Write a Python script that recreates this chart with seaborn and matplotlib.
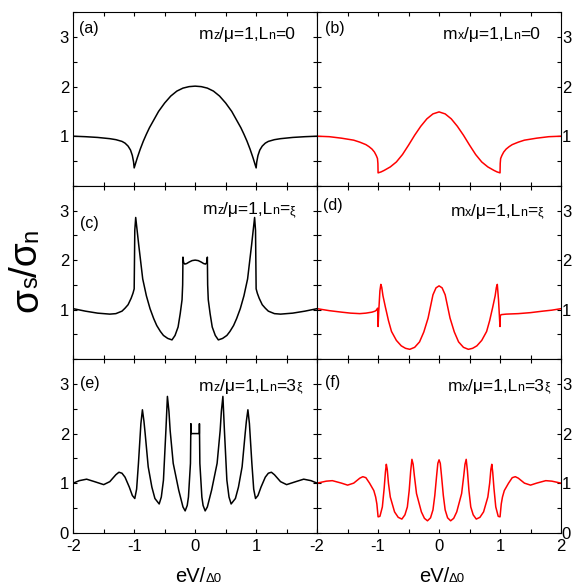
import matplotlib
matplotlib.use("Agg")
import matplotlib.pyplot as plt
from matplotlib.ticker import MultipleLocator, FixedLocator
import seaborn as sns

# ---- conductance spectra sigma_s/sigma_n vs eV/Delta0 ----
# (a) m_z/mu=1, L_n=0
x_a = [-2.0, -1.8, -1.6, -1.4, -1.3, -1.2, -1.15, -1.1, -1.06, -1.03, -1.01,
       -1.0, -0.97, -0.95, -0.9, -0.85, -0.8, -0.75, -0.7, -0.6, -0.5, -0.4,
       -0.3, -0.2, -0.1, 0.0, 0.1, 0.2, 0.3, 0.4, 0.5, 0.6, 0.7, 0.75, 0.8,
       0.85, 0.9, 0.95, 0.97, 1.0, 1.01, 1.03, 1.06, 1.1, 1.15, 1.2, 1.3, 1.4,
       1.6, 1.8, 2.0]
y_a = [1.0, 0.99, 0.975, 0.95, 0.93, 0.895, 0.86, 0.80, 0.72, 0.61, 0.48,
       0.36, 0.48, 0.56, 0.74, 0.90, 1.04, 1.17, 1.28, 1.50, 1.67, 1.81,
       1.91, 1.97, 2.0, 2.01, 2.0, 1.97, 1.91, 1.81, 1.67, 1.50, 1.28, 1.17,
       1.04, 0.90, 0.74, 0.56, 0.48, 0.36, 0.48, 0.61, 0.72, 0.80, 0.86,
       0.895, 0.93, 0.95, 0.975, 0.99, 1.0]

# (b) m_x/mu=1, L_n=0
x_b = [-2.0, -1.8, -1.6, -1.5, -1.4, -1.3, -1.2, -1.15, -1.1, -1.06, -1.03,
       -1.01, -1.003, -1.0, -0.95, -0.9, -0.8, -0.7, -0.6, -0.5, -0.4, -0.3,
       -0.2, -0.1, 0.0, 0.1, 0.2, 0.3, 0.4, 0.5, 0.6, 0.7, 0.8, 0.9, 0.95,
       1.0, 1.003, 1.01, 1.03, 1.06, 1.1, 1.15, 1.2, 1.3, 1.4, 1.5, 1.6, 1.8,
       2.0]
y_b = [1.0, 0.99, 0.96, 0.94, 0.92, 0.88, 0.83, 0.79, 0.74, 0.68, 0.61,
       0.55, 0.45, 0.26, 0.28, 0.31, 0.38, 0.48, 0.63, 0.82, 1.02, 1.20,
       1.35, 1.45, 1.49, 1.45, 1.35, 1.20, 1.02, 0.82, 0.63, 0.48, 0.38,
       0.31, 0.28, 0.26, 0.45, 0.55, 0.61, 0.68, 0.74, 0.79, 0.83, 0.88,
       0.92, 0.94, 0.96, 0.99, 1.0]

# (c) m_z/mu=1, L_n=xi
x_c = [-2.0, -1.8, -1.6, -1.4, -1.3, -1.2, -1.15, -1.1, -1.05, -1.02,
       -1.0, -0.99, -0.975, -0.95, -0.925, -0.9, -0.86, -0.8, -0.74, -0.68,
       -0.63, -0.57, -0.52, -0.45, -0.38, -0.33, -0.28, -0.245, -0.215, -0.205,
       -0.2, -0.19, -0.17, -0.14, -0.1, -0.05, 0.0,
       0.05, 0.1, 0.14, 0.17, 0.19, 0.2, 0.205, 0.215, 0.245, 0.28,
       0.33, 0.38, 0.45, 0.52, 0.57, 0.63, 0.68, 0.74, 0.8, 0.86,
       0.9, 0.925, 0.95, 0.975, 0.99, 1.0, 1.02, 1.05, 1.1, 1.15,
       1.2, 1.3, 1.4, 1.6, 1.8, 2.0]
y_c = [1.02, 0.97, 0.93, 0.91, 0.92, 0.97, 1.03, 1.10, 1.23, 1.33,
       1.42, 2.6, 2.86, 2.58, 2.3, 2.04, 1.62, 1.28, 1.02, 0.82,
       0.68, 0.56, 0.48, 0.42, 0.39, 0.48, 0.65, 0.92, 1.2, 1.5,
       2.06, 1.95, 1.92, 1.93, 1.96, 1.99, 2.0,
       1.99, 1.96, 1.93, 1.92, 1.95, 2.06, 1.5, 1.2, 0.92, 0.65,
       0.48, 0.39, 0.42, 0.48, 0.56, 0.68, 0.82, 1.02, 1.28, 1.62,
       2.04, 2.3, 2.58, 2.86, 2.6, 1.42, 1.33, 1.23, 1.10, 1.03,
       0.97, 0.92, 0.91, 0.93, 0.97, 1.02]

# (d) m_x/mu=1, L_n=xi
x_d = [-2.0, -1.8, -1.6, -1.45, -1.3, -1.2, -1.1, -1.05, -1.02, -1.008,
       -1.0, -0.99, -0.97, -0.955, -0.94, -0.92, -0.88, -0.865, -0.83, -0.78,
       -0.7, -0.62, -0.55, -0.48, -0.4, -0.32, -0.25, -0.18, -0.1, -0.05,
       0.0, 0.05, 0.1, 0.18, 0.25, 0.32, 0.4, 0.48, 0.55, 0.62, 0.7,
       0.78, 0.83, 0.865, 0.88, 0.92, 0.94, 0.955, 0.975, 0.995, 1.0,
       1.005, 1.02, 1.1, 1.3, 1.5, 1.7, 1.85, 2.0]
y_d = [1.02, 0.98, 0.95, 0.93, 0.92, 0.93, 0.95, 0.97, 1.0, 1.03,
       0.66, 0.95, 1.38, 1.51, 1.45, 1.28, 1.05, 0.97, 0.78, 0.56,
       0.38, 0.27, 0.22, 0.20, 0.24, 0.35, 0.55, 0.83, 1.3, 1.44,
       1.48, 1.44, 1.3, 0.83, 0.55, 0.35, 0.24, 0.20, 0.22, 0.27, 0.38,
       0.56, 0.78, 0.97, 1.05, 1.28, 1.45, 1.51, 1.2, 0.75, 0.66,
       0.88, 0.9, 0.91, 0.92, 0.94, 0.97, 0.99, 1.02]

# (e) m_z/mu=1, L_n=3xi
x_e = [-2.0, -1.9, -1.78, -1.65, -1.5, -1.4, -1.3, -1.25, -1.2, -1.15,
       -1.08, -1.03, -0.99, -0.96, -0.93, -0.89, -0.865, -0.84, -0.82, -0.77,
       -0.71, -0.66, -0.59, -0.555, -0.52, -0.48, -0.455, -0.43, -0.41, -0.36,
       -0.27, -0.2, -0.164, -0.13, -0.11, -0.077, -0.07, -0.068, 0.0,
       0.068, 0.07, 0.077, 0.11, 0.13, 0.164, 0.2, 0.27, 0.36, 0.41,
       0.43, 0.455, 0.48, 0.52, 0.555, 0.59, 0.66, 0.71, 0.77, 0.82,
       0.84, 0.865, 0.89, 0.93, 0.96, 0.99, 1.03, 1.08, 1.15, 1.2,
       1.25, 1.3, 1.4, 1.5, 1.65, 1.78, 1.9, 2.0]
y_e = [1.0, 1.05, 1.08, 1.03, 0.97, 1.03, 1.17, 1.22, 1.2, 1.12,
       0.92, 0.75, 0.69, 0.88, 1.4, 2.2, 2.48, 2.25, 2.0, 1.33,
       0.92, 0.69, 0.58, 0.72, 1.06, 2.06, 2.75, 2.45, 2.06, 1.4,
       0.86, 0.52, 0.44, 0.55, 0.72, 1.4, 2.2, 2.0, 2.0,
       2.0, 2.2, 1.4, 0.72, 0.55, 0.44, 0.52, 0.86, 1.4, 2.06,
       2.45, 2.75, 2.06, 1.06, 0.72, 0.58, 0.69, 0.92, 1.33, 2.0,
       2.25, 2.48, 2.2, 1.4, 0.88, 0.69, 0.75, 0.92, 1.12, 1.2,
       1.22, 1.17, 1.03, 0.97, 1.03, 1.08, 1.05, 1.0]

# (f) m_x/mu=1, L_n=3xi
x_f = [-2.0, -1.85, -1.75, -1.6, -1.5, -1.4, -1.3, -1.25, -1.2, -1.14,
       -1.07, -1.04, -1.02, -1.0, -0.97, -0.93, -0.9, -0.88, -0.865, -0.85,
       -0.83, -0.8, -0.73, -0.67, -0.61, -0.56, -0.52, -0.49, -0.465, -0.445,
       -0.425, -0.405, -0.37, -0.29, -0.24, -0.19, -0.14, -0.1, -0.07, -0.04,
       -0.02, 0.0, 0.02, 0.04, 0.07, 0.1, 0.14, 0.19, 0.24, 0.29, 0.37,
       0.405, 0.425, 0.445, 0.465, 0.49, 0.52, 0.56, 0.61, 0.67, 0.73,
       0.8, 0.83, 0.85, 0.865, 0.88, 0.9, 0.93, 0.97, 1.0, 1.02,
       1.04, 1.07, 1.14, 1.2, 1.25, 1.3, 1.4, 1.5, 1.6, 1.75, 1.85, 2.0]
y_f = [1.0, 1.04, 1.05, 1.0, 0.96, 1.0, 1.1, 1.13, 1.11, 1.0,
       0.85, 0.72, 0.58, 0.32, 0.33, 0.52, 0.9, 1.22, 1.38, 1.28,
       1.0, 0.72, 0.42, 0.31, 0.275, 0.36, 0.52, 0.85, 1.25, 1.48,
       1.38, 1.15, 0.79, 0.42, 0.29, 0.24, 0.3, 0.46, 0.75, 1.15,
       1.4, 1.47, 1.4, 1.15, 0.75, 0.46, 0.3, 0.24, 0.29, 0.42, 0.79,
       1.15, 1.38, 1.48, 1.25, 0.85, 0.52, 0.36, 0.275, 0.31, 0.42,
       0.72, 1.0, 1.28, 1.38, 1.22, 0.9, 0.52, 0.33, 0.32, 0.58,
       0.72, 0.85, 1.0, 1.11, 1.13, 1.1, 1.0, 0.96, 1.0, 1.05, 1.04, 1.0]

panel_tags = ["(a)", "(b)", "(c)", "(d)", "(e)", "(f)"]
x_tick_labels_left = ["-2", "-1", "0", "1", ""]
x_tick_labels_right = ["-2", "-1", "0", "1", "2"]

# ---- styling ----
sns.set_style("ticks")
plt.rcParams["font.family"] = ["Liberation Sans", "DejaVu Sans"]
plt.rcParams["axes.unicode_minus"] = False
plt.rcParams["axes.linewidth"] = 0.8

BLACK = "#000000"
RED = "#ff0000"
TICK_SIZE = 12

fig = plt.figure(figsize=(5.81, 5.85), dpi=100)
gs = fig.add_gridspec(3, 2, left=0.126, right=0.9656, top=0.979,
                      bottom=0.0894, hspace=0, wspace=0)

series = [(x_a, y_a, BLACK), (x_b, y_b, RED),
          (x_c, y_c, BLACK), (x_d, y_d, RED),
          (x_e, y_e, BLACK), (x_f, y_f, RED)]

axes = []
for i, (xs, ys, col) in enumerate(series):
    r, c = divmod(i, 2)
    ax = fig.add_subplot(gs[r, c])
    sns.lineplot(x=xs, y=ys, ax=ax, color=col, linewidth=1.1,
                 estimator=None, sort=False)
    ax.set_xlim(-2, 2)
    ax.set_ylim(0, 3.5)
    ax.xaxis.set_major_locator(FixedLocator([-2, -1, 0, 1, 2]))
    ax.xaxis.set_minor_locator(MultipleLocator(0.5))
    ax.yaxis.set_major_locator(FixedLocator([0, 1, 2, 3]))
    ax.yaxis.set_minor_locator(MultipleLocator(0.5))
    ax.tick_params(which="both", direction="in", top=True, bottom=True,
                   left=True, right=True, length=3, width=0.8,
                   labelsize=TICK_SIZE, colors="black")
    ax.set_xlabel("")
    ax.set_ylabel("")
    for sp in ax.spines.values():
        sp.set_color("black")
        sp.set_linewidth(0.8)

    if c == 0:
        ax.tick_params(axis="y", labelleft=True, labelright=False, pad=3)
    else:
        ax.tick_params(axis="y", labelleft=False, labelright=True, pad=0.6)
    if r < 2:
        ax.set_yticklabels(["", "1", "2", "3"])
        ax.tick_params(axis="x", labelbottom=False)
    else:
        ax.set_yticklabels(["0", "1", "2", "3"])
        ax.set_xticklabels(x_tick_labels_left if c == 0 else x_tick_labels_right)
        ax.tick_params(axis="x", labelbottom=True, pad=4.5)
    axes.append(ax)

renderer = fig.canvas.get_renderer()


def rich_text(x_disp, y_disp, parts, align="left", rotation=0):
    """Draw text pieces of mixed size sharing one baseline."""
    widths = []
    for s, size in parts:
        t = fig.text(0, 0, s, fontsize=size)
        widths.append(t.get_window_extent(renderer).width)
        t.remove()
    total = sum(widths)
    if align == "right":
        offset = -total
    elif align == "center":
        offset = -total / 2
    else:
        offset = 0.0
    inv = fig.transFigure.inverted()
    pos = offset
    for (s, size), w in zip(parts, widths):
        if rotation == 0:
            px, py = x_disp + pos, y_disp
        else:
            px, py = x_disp, y_disp + pos
        fx, fy = inv.transform((px, py))
        fig.text(fx, fy, s, fontsize=size, rotation=rotation,
                 rotation_mode="anchor", ha="left", va="baseline",
                 color="black")
        pos += w


BIG, SMALL = 12.5, 9
panel_labels = [
    [("m", BIG), ("z", SMALL), ("/μ=1,L", BIG), ("n", SMALL), ("=0", BIG)],
    [("m", BIG), ("x", SMALL), ("/μ=1,L", BIG), ("n", SMALL), ("=0", BIG)],
    [("m", BIG), ("z", SMALL), ("/μ=1,L", BIG), ("n", SMALL), ("=", BIG), ("ξ", SMALL)],
    [("m", BIG), ("x", SMALL), ("/μ=1,L", BIG), ("n", SMALL), ("=", BIG), ("ξ", SMALL)],
    [("m", BIG), ("z", SMALL), ("/μ=1,L", BIG), ("n", SMALL), ("=3", BIG), ("ξ", SMALL)],
    [("m", BIG), ("x", SMALL), ("/μ=1,L", BIG), ("n", SMALL), ("=3", BIG), ("ξ", SMALL)],
]
label_anchor = [(0.911, 0.844), (0.914, 0.844), (0.911, 0.836),
                (0.928, 0.827), (0.937, 0.818), (0.955, 0.818)]
tag_anchor = [(0.023, 0.95), (0.034, 0.952), (0.028, 0.823),
              (0.026, 0.931), (0.028, 0.901), (0.034, 0.91)]

for ax, tag, (tx, ty), parts, (lx, ly) in zip(axes, panel_tags, tag_anchor,
                                             panel_labels, label_anchor):
    ax.text(tx, ty, tag, transform=ax.transAxes, fontsize=11.5,
            ha="left", va="top", color="black")
    dx, dy = ax.transAxes.transform((lx, ly))
    rich_text(dx, dy, parts, align="right")

# x-axis titles under each column
for ax in axes[4:]:
    cx, _ = ax.transAxes.transform((0.5, 0))
    rich_text(cx + 3, 3.0, [("eV/", 14.5), ("Δ0", 9.5)], align="center")

# shared y-axis title
rich_text(37.3, 585 - 270.5, [("σ", 28), ("s", 17), ("/σ", 28), ("n", 17)],
          align="center", rotation=90)

fig.savefig("out.png", dpi=100)
